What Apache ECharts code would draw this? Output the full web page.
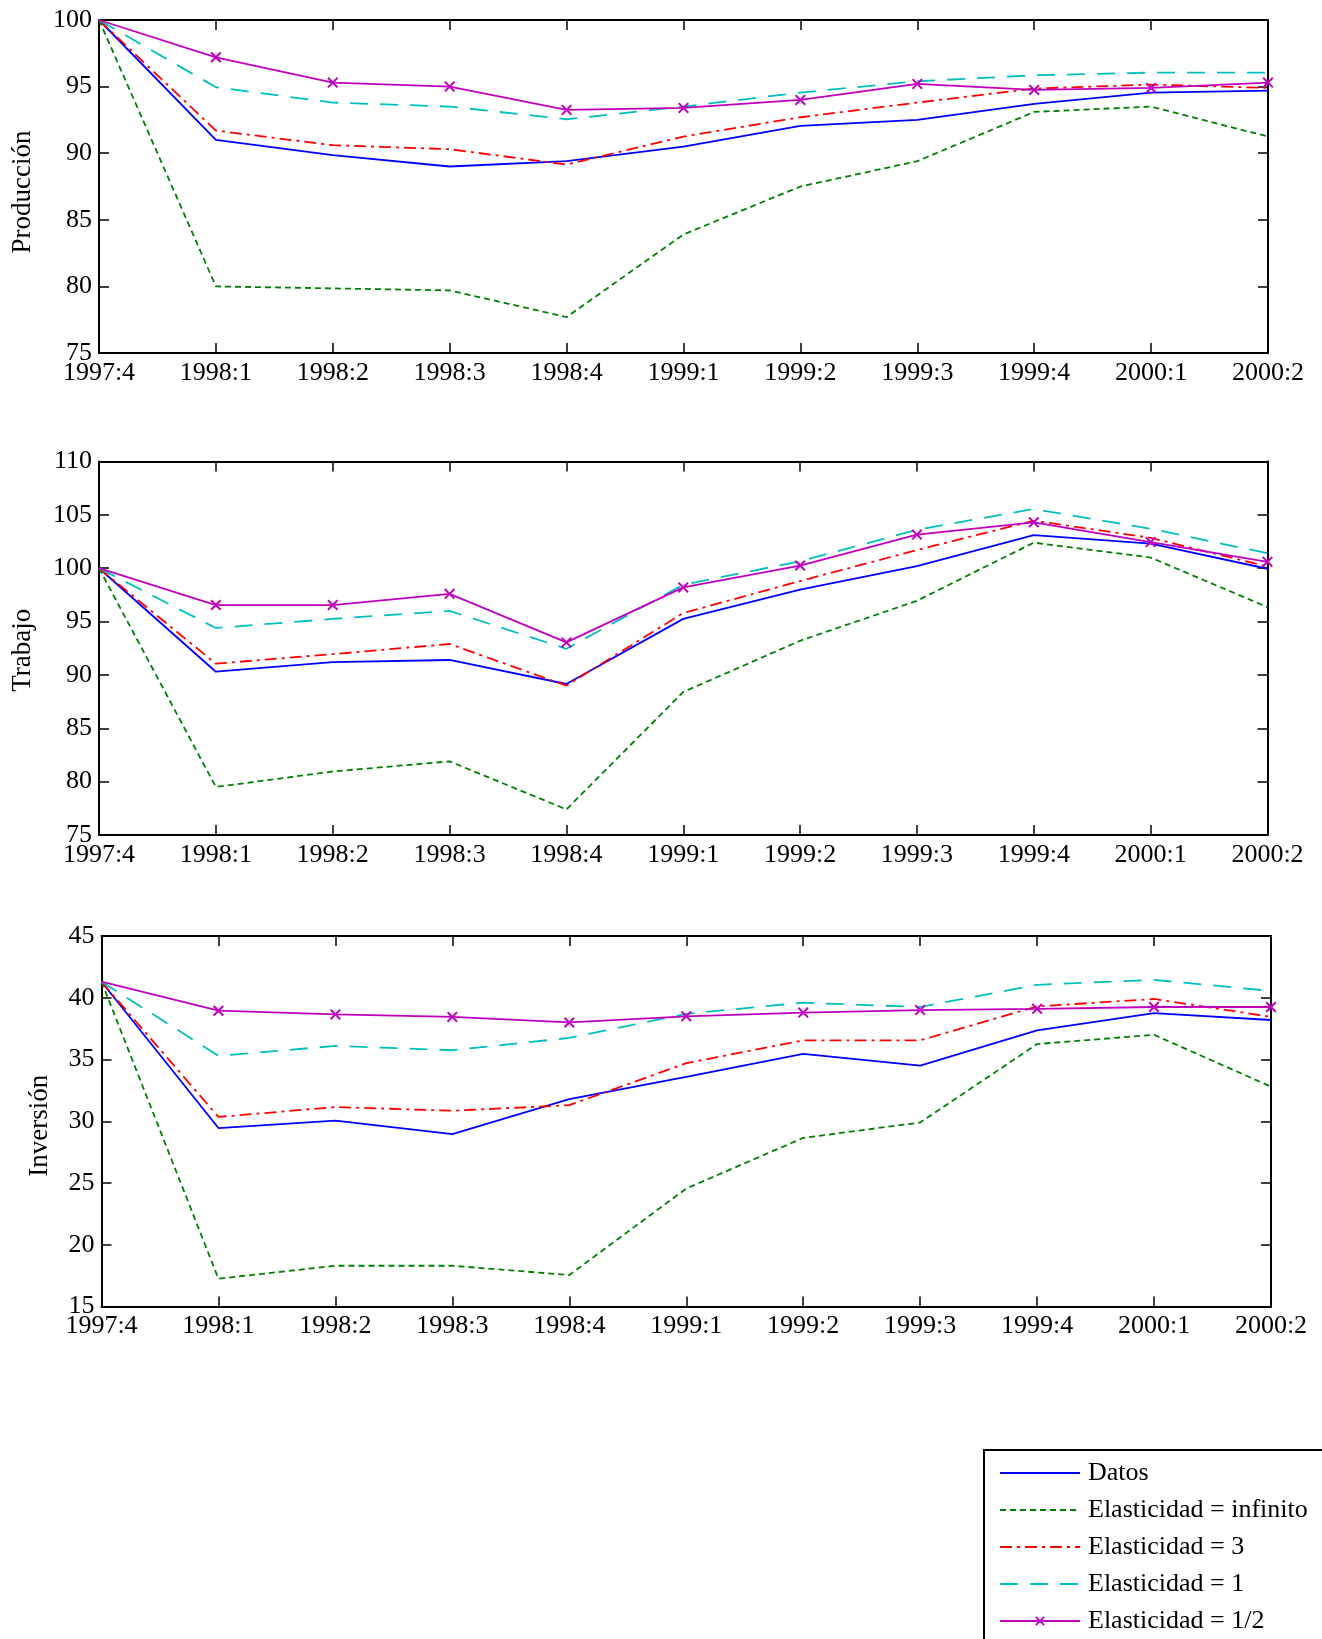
<!DOCTYPE html>
<html>
<head>
<meta charset="utf-8">
<script src="https://cdn.jsdelivr.net/npm/echarts@6/dist/echarts.min.js"></script>
<style>
  html, body { margin: 0; padding: 0; background: #fff; }
  #main { width: 1322px; height: 1639px; }
</style>
</head>
<body>
<div id="main"></div>
<script>
// trimestres
const periodos = ['1997:4', '1998:1', '1998:2', '1998:3', '1998:4', '1999:1', '1999:2', '1999:3', '1999:4', '2000:1', '2000:2'];
const nombres = ['Datos', 'Elasticidad = infinito', 'Elasticidad = 3', 'Elasticidad = 1', 'Elasticidad = 1/2'];

// Producción
const prodDatos = [100, 91.0, 89.85, 89.0, 89.4, 90.5, 92.05, 92.5, 93.7, 94.55, 94.7];
const prodInf   = [100, 80.0, 79.85, 79.7, 77.7, 83.9, 87.5, 89.4, 93.1, 93.5, 91.25];
const prodE3    = [100, 91.7, 90.6, 90.3, 89.15, 91.25, 92.7, 93.8, 94.85, 95.15, 94.9];
const prodE1    = [100, 94.95, 93.8, 93.5, 92.55, 93.5, 94.55, 95.4, 95.85, 96.05, 96.05];
const prodEmed  = [100, 97.2, 95.3, 95.0, 93.25, 93.4, 94.0, 95.2, 94.75, 94.9, 95.3];

// Trabajo
const trabDatos = [100, 90.3, 91.2, 91.4, 89.15, 95.25, 98.0, 100.2, 103.1, 102.3, 99.95];
const trabInf   = [100, 79.5, 80.95, 81.9, 77.4, 88.4, 93.2, 96.95, 102.4, 101.0, 96.35];
const trabE3    = [100, 91.05, 91.95, 92.9, 89.0, 95.8, 98.8, 101.7, 104.45, 102.85, 100.15];
const trabE1    = [100, 94.4, 95.25, 96.0, 92.45, 98.45, 100.65, 103.6, 105.55, 103.7, 101.4];
const trabEmed  = [100, 96.55, 96.55, 97.6, 93.05, 98.2, 100.25, 103.15, 104.3, 102.45, 100.6];

// Inversión
const invDatos = [41.3, 29.45, 30.05, 28.95, 31.8, 33.6, 35.45, 34.5, 37.35, 38.75, 38.2];
const invInf   = [41.3, 17.25, 18.3, 18.3, 17.55, 24.55, 28.65, 29.9, 36.25, 37.0, 32.8];
const invE3    = [41.3, 30.35, 31.15, 30.85, 31.3, 34.7, 36.55, 36.55, 39.3, 39.9, 38.45];
const invE1    = [41.3, 35.3, 36.1, 35.75, 36.75, 38.7, 39.6, 39.25, 41.05, 41.45, 40.55];
const invEmed  = [41.3, 38.95, 38.65, 38.45, 38.0, 38.5, 38.8, 39.0, 39.1, 39.25, 39.25];

// ejes y: [min, max, intervalo]
const rangoProd = [75, 100, 5];
const rangoTrab = [75, 110, 5];
const rangoInv  = [15, 45, 5];

const FUENTE = 'Liberation Serif';
// aspa (x) rellena
const cruz = 'path://M0,1.3L1.3,0L5,3.7L8.7,0L10,1.3L6.3,5L10,8.7L8.7,10L5,6.3L1.3,10L0,8.7L3.7,5Z';

const estilos = [
  { color: '#0000FF', type: 'solid' },
  { color: '#008000', type: [6, 4] },
  { color: '#FF0000', type: [12, 5, 3, 5] },
  { color: '#00BFBF', type: [18, 12] },
  { color: '#BF00BF', type: 'solid', marca: true }
];

const paneles = [
  { nombre: 'Producción', rango: rangoProd, gap: 63, desplaza: 11, grid: { left: 99, top: 20, width: 1169, height: 333 },
    datos: [prodDatos, prodInf, prodE3, prodE1, prodEmed] },
  { nombre: 'Trabajo', rango: rangoTrab, gap: 63, desplaza: 4, grid: { left: 99, top: 461.5, width: 1168.5, height: 373.5 },
    datos: [trabDatos, trabInf, trabE3, trabE1, trabEmed] },
  { nombre: 'Inversión', rango: rangoInv, gap: 48, desplaza: 9, grid: { left: 101.5, top: 936, width: 1169.5, height: 370.5 },
    datos: [invDatos, invInf, invE3, invE1, invEmed] }
];

const lineaEje = { show: true, onZero: false, lineStyle: { color: '#000', width: 2 } };
const tick = { show: true, inside: true, length: 10, lineStyle: { color: '#000', width: 1.5 } };

let grids = [], xAxes = [], yAxes = [], series = [];

paneles.forEach((p, g) => {
  grids.push(Object.assign({ outerBoundsMode: 'none', containLabel: false }, p.grid));

  // abajo con etiquetas, arriba solo marcas
  xAxes.push({
    type: 'category', gridIndex: g, position: 'bottom', data: periodos, boundaryGap: false,
    axisLine: lineaEje, axisTick: Object.assign({ interval: 0 }, tick),
    axisLabel: { interval: 0, margin: 7, color: '#000', fontFamily: FUENTE, fontSize: 26 },
    splitLine: { show: false }
  });
  xAxes.push({
    type: 'category', gridIndex: g, position: 'top', data: periodos, boundaryGap: false,
    axisLine: lineaEje, axisTick: Object.assign({ interval: 0 }, tick),
    axisLabel: { show: false }, splitLine: { show: false }
  });

  yAxes.push({
    type: 'value', gridIndex: g, position: 'left',
    min: p.rango[0], max: p.rango[1], interval: p.rango[2],
    name: p.nombre, nameLocation: 'middle', nameGap: p.gap, nameRotate: 90,
    nameTextStyle: { color: '#000', fontFamily: FUENTE, fontSize: 27, padding: [0, p.desplaza, 0, 0] },
    axisLine: lineaEje, axisTick: tick,
    axisLabel: { margin: 7, color: '#000', fontFamily: FUENTE, fontSize: 26 },
    splitLine: { show: false }
  });
  yAxes.push({
    type: 'value', gridIndex: g, position: 'right',
    min: p.rango[0], max: p.rango[1], interval: p.rango[2],
    axisLine: lineaEje, axisTick: tick,
    axisLabel: { show: false }, splitLine: { show: false }
  });

  p.datos.forEach((valores, i) => {
    const e = estilos[i];
    series.push({
      name: nombres[i],
      type: 'line',
      xAxisIndex: g * 2,
      yAxisIndex: g * 2,
      // el primer punto va sin marca
      data: e.marca ? valores.map((v, k) => k === 0 ? { value: v, symbol: 'none' } : v) : valores,
      symbol: e.marca ? cruz : 'none',
      symbolSize: 11,
      showSymbol: !!e.marca,
      clip: false,
      itemStyle: { color: e.color },
      lineStyle: { color: e.color, width: 1.8, type: e.type },
      emphasis: { disabled: true },
      z: 2 + i
    });
  });
});

// en la leyenda solo la de 1/2 lleva marca
const leyenda = nombres.map((n, i) => estilos[i].marca ? { name: n } : { name: n, itemStyle: { opacity: 0 } });

let myChart = echarts.init(document.getElementById('main'));

let option = {
  animation: false,
  backgroundColor: '#fff',
  grid: grids,
  xAxis: xAxes,
  yAxis: yAxes,
  legend: {
    data: leyenda,
    orient: 'vertical',
    left: 984,
    top: 1450,
    height: 320,
    padding: [8, 24, 10, 15],
    itemGap: 7,
    itemWidth: 80,
    itemHeight: 12,
    borderColor: '#000',
    borderWidth: 2,
    borderRadius: 0,
    backgroundColor: '#fff',
    selectedMode: false,
    textStyle: { color: '#000', fontFamily: FUENTE, fontSize: 26, lineHeight: 30, padding: [0, 0, 0, 3] }
  },
  series: series
};

myChart.setOption(option);
</script>
</body>
</html>
